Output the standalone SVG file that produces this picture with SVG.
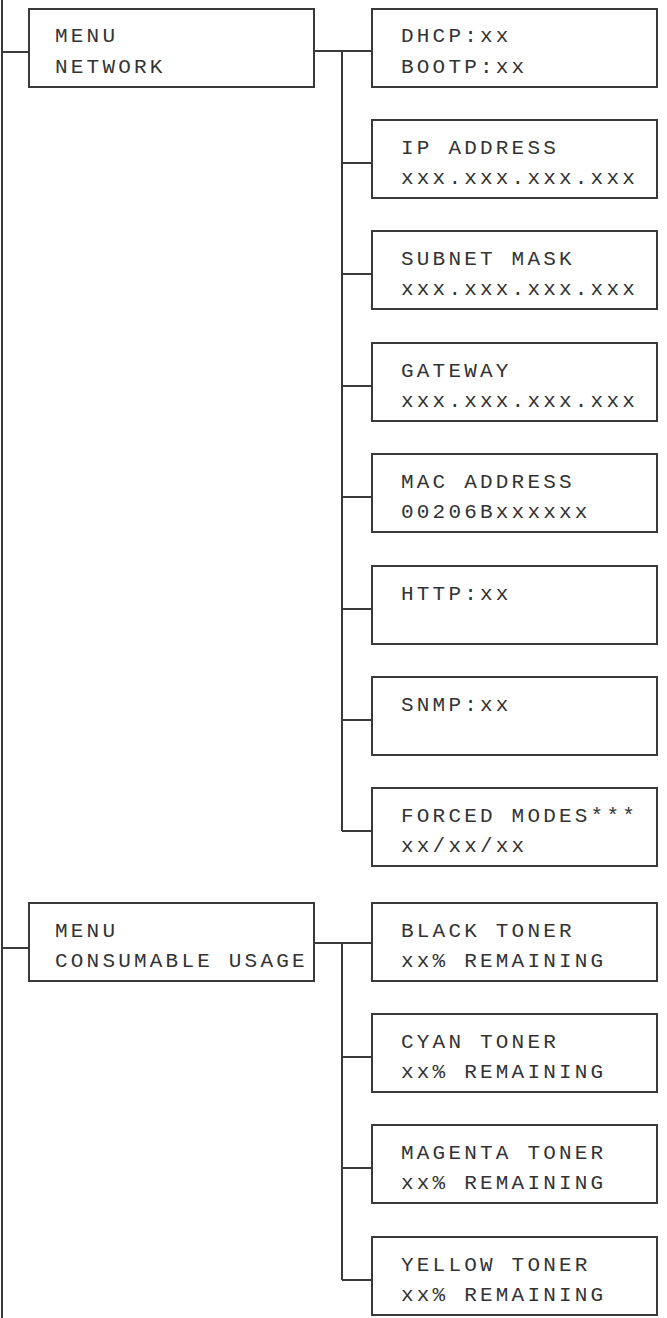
<svg xmlns="http://www.w3.org/2000/svg" width="667" height="1318" viewBox="0 0 667 1318">
<style>
.box{fill:#fff;stroke:#3a3a3a;stroke-width:2}
.ln{fill:none;stroke:#3a3a3a;stroke-width:2}
text{font-family:"Liberation Mono","Courier New",monospace;font-size:21px;letter-spacing:3.2px;fill:#333}
</style>
<rect width="667" height="1318" fill="#fff"/>
<g id="connectors">
<path class="ln" d="M2,0 V1318 M2,52 H29 M2,948 H29"/>
<path class="ln" d="M314,51 H372 M342,51 V831 M342,163 H372 M342,274 H372 M342,386 H372 M342,497 H372 M342,609 H372 M342,720 H372 M342,831 H372"/>
<path class="ln" d="M314,943 H372 M342,943 V1280 M342,1057 H372 M342,1168 H372 M342,1280 H372"/>
</g>
<g id="menu-network"><rect class="box" x="29" y="9" width="285" height="78"/><text x="55" y="42">MENU</text><text x="55" y="73">NETWORK</text></g>
<g id="dhcp"><rect class="box" x="372" y="9" width="285" height="78"/><text x="401" y="42">DHCP:xx</text><text x="401" y="73">BOOTP:xx</text></g>
<g id="ip"><rect class="box" x="372" y="120" width="285" height="78"/><text x="401" y="154">IP ADDRESS</text><text x="401" y="184">xxx.xxx.xxx.xxx</text></g>
<g id="subnet"><rect class="box" x="372" y="231" width="285" height="78"/><text x="401" y="265">SUBNET MASK</text><text x="401" y="295">xxx.xxx.xxx.xxx</text></g>
<g id="gateway"><rect class="box" x="372" y="343" width="285" height="78"/><text x="401" y="377">GATEWAY</text><text x="401" y="407">xxx.xxx.xxx.xxx</text></g>
<g id="mac"><rect class="box" x="372" y="454" width="285" height="78"/><text x="401" y="488">MAC ADDRESS</text><text x="401" y="518">00206Bxxxxxx</text></g>
<g id="http"><rect class="box" x="372" y="566" width="285" height="78"/><text x="401" y="600">HTTP:xx</text></g>
<g id="snmp"><rect class="box" x="372" y="677" width="285" height="78"/><text x="401" y="711">SNMP:xx</text></g>
<g id="forced"><rect class="box" x="372" y="788" width="285" height="78"/><text x="401" y="822">FORCED MODES***</text><text x="401" y="852">xx/xx/xx</text></g>
<g id="menu-consumable"><rect class="box" x="29" y="903" width="285" height="78"/><text x="55" y="937">MENU</text><text x="55" y="967">CONSUMABLE USAGE</text></g>
<g id="black"><rect class="box" x="372" y="903" width="285" height="78"/><text x="401" y="937">BLACK TONER</text><text x="401" y="967">xx% REMAINING</text></g>
<g id="cyan"><rect class="box" x="372" y="1014" width="285" height="78"/><text x="401" y="1048">CYAN TONER</text><text x="401" y="1078">xx% REMAINING</text></g>
<g id="magenta"><rect class="box" x="372" y="1125" width="285" height="78"/><text x="401" y="1159">MAGENTA TONER</text><text x="401" y="1189">xx% REMAINING</text></g>
<g id="yellow"><rect class="box" x="372" y="1237" width="285" height="78"/><text x="401" y="1271">YELLOW TONER</text><text x="401" y="1301">xx% REMAINING</text></g>
</svg>
